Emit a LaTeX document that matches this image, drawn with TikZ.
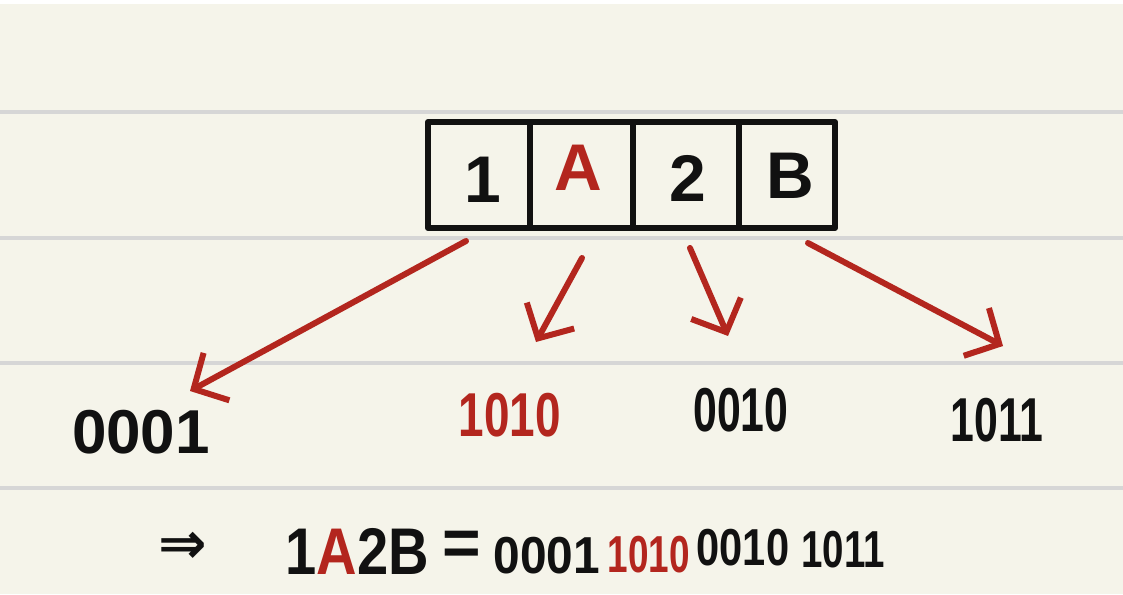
\documentclass[tikz,border=0pt]{standalone}
\usepackage{fontspec}
\setmainfont{Liberation Sans}
\newfontfamily\symfont{DejaVu Sans}
\usetikzlibrary{arrows.meta}
\definecolor{paper}{HTML}{F5F4EA}
\definecolor{rule}{HTML}{D6D6D6}
\definecolor{pen}{HTML}{111111}
\definecolor{redpen}{HTML}{B3261E}
\tikzset{
  ruleline/.style={rule, line width=3.5pt},
  boxline/.style={pen, line width=6pt},
  bigtxt/.style={font=\bfseries\fontsize{66}{66}\selectfont, inner sep=0pt},
  midtxt/.style={font=\bfseries\fontsize{62}{62}\selectfont, inner sep=0pt},
  lowtxt/.style={font=\bfseries\fontsize{52}{52}\selectfont, inner sep=0pt},
  redarrow/.style={redpen, line width=6pt, line cap=round, line join=round,
    -{Straight Barb[length=26pt,width=54pt,line width=6pt]}},
}
\begin{document}
\begin{tikzpicture}[x=1pt,y=-1pt]
\useasboundingbox (0,0) rectangle (1123,594);
\fill[paper] (0,0) rectangle (1123,594);
\fill[white] (0,0) rectangle (1123,4);
\foreach \yy in {112,238,363,488} \draw[ruleline] (0,\yy) -- (1123,\yy);
% box
\draw[boxline, line join=round] (428,122) rectangle (835,228);
\draw[boxline] (530,122) -- (530,230);
\draw[boxline] (633,122) -- (633,230);
\draw[boxline] (739,122) -- (739,230);
\node[bigtxt, text=pen] (c1) at (483,180) {1};
\node[bigtxt, text=redpen] (c2) at (578,168) {A};
\node[bigtxt, text=pen] (c3) at (688,178) {2};
\node[bigtxt, text=pen] (c4) at (790,176) {B};
% labels
\node[midtxt, text=pen] (l1) at (141,432) {0001};
\node[midtxt, text=redpen] (l2) at (510,415) {\scalebox{0.74}[1]{1010}};
\node[midtxt, text=pen] (l3) at (741,410) {\scalebox{0.69}[1]{0010}};
\node[midtxt, text=pen] (l4) at (997,420) {\scalebox{0.69}[1]{1011}};
% arrow anchors
\coordinate (s1) at (466,241);
\coordinate (e1) at (190,391);
\coordinate (s2) at (582,258);
\coordinate (e2) at (536,342);
\coordinate (s3) at (690,248);
\coordinate (e3) at (728,336);
\coordinate (s4) at (808,243);
\coordinate (e4) at (1003,346);
\draw[redarrow] (s1) -- (e1);
\draw[redarrow] (s2) -- (e2);
\draw[redarrow] (s3) -- (e3);
\draw[redarrow] (s4) -- (e4);
% bottom line
\node[inner sep=0pt, text=pen, font=\symfont\bfseries\fontsize{58}{58}\selectfont] (imp) at (183,548) {⇒};
\node[inner sep=0pt, text=pen, font=\bfseries\fontsize{66}{66}\selectfont] (w) at (357,551) {\scalebox{0.85}[1]{1\textcolor{redpen}{A}2B}};
\node[text=pen, inner sep=0pt, font=\bfseries\fontsize{66}{66}\selectfont] (eq) at (462,548) {=};
\node[lowtxt, text=pen] (b1) at (547,556) {\scalebox{0.92}[1]{0001}};
\node[lowtxt, text=redpen] (b2) at (649,555) {\scalebox{0.71}[1]{1010}};
\node[lowtxt, text=pen] (b3) at (743,548) {\scalebox{0.8}[1]{0010}};
\node[lowtxt, text=pen] (b4) at (843,550) {\scalebox{0.74}[1]{1011}};
\end{tikzpicture}
\end{document}
